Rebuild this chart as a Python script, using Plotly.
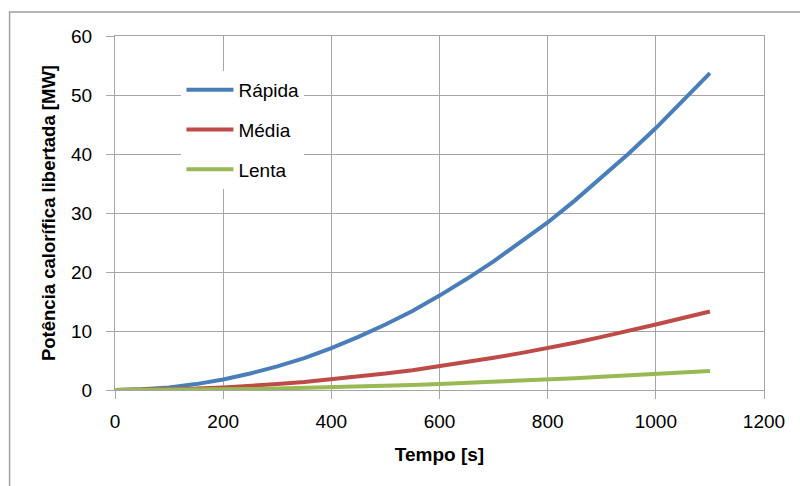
import plotly.graph_objects as go

# Tempo [s]
tempo = [0, 50, 100, 150, 200, 250, 300, 350, 400, 450, 500, 550,
         600, 650, 700, 750, 800, 850, 900, 950, 1000, 1050, 1100]

# Potência calorífica libertada [MW]
rapida = [0, 0.11, 0.44, 1.0, 1.78, 2.8, 4.0, 5.4, 7.1, 9.0, 11.1, 13.4,
          16.0, 18.8, 21.8, 25.0, 28.4, 32.1, 36.0, 40.1, 44.4, 49.0, 53.7]
media = [0, 0.03, 0.11, 0.25, 0.44, 0.69, 1.0, 1.36, 1.78, 2.25, 2.78, 3.36,
         4.0, 4.7, 5.45, 6.25, 7.1, 8.0, 9.0, 10.0, 11.1, 12.2, 13.3]
lenta = [0, 0.007, 0.027, 0.06, 0.11, 0.17, 0.25, 0.34, 0.44, 0.56, 0.69, 0.83,
         1.0, 1.17, 1.36, 1.56, 1.78, 2.0, 2.25, 2.5, 2.75, 3.0, 3.22]

series = [("Rápida", rapida, "#4A7EBB"),
          ("Média", media, "#BE4B48"),
          ("Lenta", lenta, "#98B954")]

FONT = "Liberation Sans, Arial, sans-serif"
GRID = "#A6A6A6"

fig = go.Figure()
for name, vals, color in series:
    fig.add_trace(go.Scatter(
        x=tempo, y=vals, name=name, mode="lines",
        line=dict(color=color, width=4),
        legendgroup=name,
    ))

# plot area in pixels
L, T, W, H = 114.5, 36.0, 649.5, 354.5
def px_x(p):
    return (p - L) / W
def px_y(p):
    return (T + H - p) / H

# outer chart frame
fig.add_shape(type="rect", xref="paper", yref="paper",
              x0=px_x(9), x1=px_x(812), y0=px_y(500), y1=px_y(12),
              line=dict(color="#A0A0A0", width=1.5), fillcolor="rgba(0,0,0,0)",
              layer="below")

fig.update_layout(
    width=800, height=486,
    margin=dict(l=L, r=800 - L - W, t=T, b=486 - T - H),
    paper_bgcolor="white", plot_bgcolor="white",
    font=dict(family=FONT, color="#000000"),
    showlegend=True,
    legend=dict(
        x=px_x(181), y=px_y(71), xanchor="left", yanchor="top",
        bgcolor="white", borderwidth=0,
        font=dict(size=19, family=FONT),
        tracegroupgap=12, itemwidth=47,
    ),
    xaxis=dict(
        range=[0, 1200], dtick=200, tick0=0,
        showgrid=True, gridcolor=GRID, gridwidth=1,
        showline=True, linecolor=GRID, linewidth=1, mirror=True,
        ticks="outside", ticklen=8, tickcolor=GRID,
        tickfont=dict(size=19, family=FONT),
        ticklabelstandoff=6,
        zeroline=False,
        title=dict(text="<b>Tempo [s]</b>", font=dict(size=19, family=FONT), standoff=16),
    ),
    yaxis=dict(
        range=[0, 60], dtick=10, tick0=0,
        showgrid=True, gridcolor=GRID, gridwidth=1,
        showline=True, linecolor=GRID, linewidth=1, mirror=True,
        ticks="outside", ticklen=8, tickcolor=GRID,
        tickfont=dict(size=19, family=FONT),
        ticklabelstandoff=10,
        zeroline=False,
        title=dict(text="<b>Potência calorífica libertada [MW]</b>",
                   font=dict(size=18.5, family=FONT), standoff=10),
    ),
)

fig.write_html("out.html")
